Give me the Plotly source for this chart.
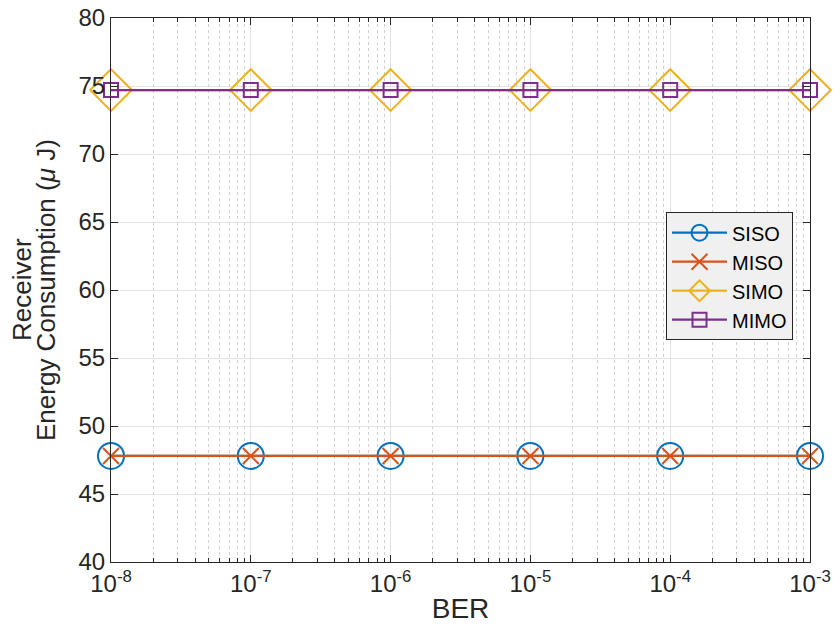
import plotly.graph_objects as go

ber = [1e-8, 1e-7, 1e-6, 1e-5, 1e-4, 1e-3]
siso = [47.8, 47.8, 47.8, 47.8, 47.8, 47.8]
miso = [47.8, 47.8, 47.8, 47.8, 47.8, 47.8]
simo = [74.7, 74.7, 74.7, 74.7, 74.7, 74.7]
mimo = [74.7, 74.7, 74.7, 74.7, 74.7, 74.7]

xtick_vals = [1e-8, 1e-7, 1e-6, 1e-5, 1e-4, 1e-3]
xtick_text = ["10<sup>-8</sup>", "10<sup>-7</sup>", "10<sup>-6</sup>",
              "10<sup>-5</sup>", "10<sup>-4</sup>", "10<sup>-3</sup>"]
ytitle_lines = ["Receiver", "Energy Consumption (<i>μ</i> J)"]

series = [
    ("SISO", siso, "#0072BD", "circle-open", 26),
    ("MISO", miso, "#D95319", "x-thin-open", 16),
    ("SIMO", simo, "#EDB120", "diamond-open", 32),
    ("MIMO", mimo, "#7E2F8E", "square-open", 14),
]

FONT = "Liberation Sans, Arial"

fig = go.Figure()
for name, vals, color, sym, size in series:
    fig.add_trace(go.Scatter(
        x=ber, y=vals, name=name, mode="lines+markers",
        line=dict(color=color, width=2.2),
        marker=dict(symbol=sym, size=size, color=color,
                    line=dict(color=color, width=2)),
        cliponaxis=False,
    ))

axis_common = dict(
    showline=True, linecolor="#262626", linewidth=1, mirror="ticks",
    ticks="inside", ticklen=7, tickcolor="#262626",
    tickfont=dict(family=FONT, size=24, color="#262626"),
    gridcolor="#e3e3e3", gridwidth=1, zeroline=False, automargin=False,
)

fig.update_xaxes(
    type="log", range=[-8.00001, -2.99999], tickvals=xtick_vals, ticktext=xtick_text,
    title=dict(text="BER", font=dict(family=FONT, size=28, color="#262626"), standoff=2),
    minor=dict(showgrid=True, griddash="dot", gridcolor="#d0d0d0", ticks="inside",
               ticklen=4, tickcolor="#262626", dtick="D1"),
    **axis_common,
)
fig.update_yaxes(range=[40, 80], dtick=5, **axis_common)

# two-line y title, tighter line spacing than Plotly's default
for xpx, txt in zip([22, 46], ytitle_lines):
    fig.add_annotation(
        text=txt, xref="paper", yref="paper",
        x=(xpx - 111) / 699, y=0.5, xanchor="center", yanchor="middle",
        textangle=-90, showarrow=False,
        font=dict(family=FONT, size=26, color="#262626"),
    )

fig.update_layout(
    width=835, height=637,
    margin=dict(l=111, r=25, t=18, b=75),
    plot_bgcolor="white", paper_bgcolor="white",
    legend=dict(
        x=0.9757, y=0.643, xanchor="right", yanchor="top",
        bgcolor="#f0f0f0", bordercolor="#262626", borderwidth=1,
        font=dict(family=FONT, size=20, color="black"),
        itemwidth=55, tracegroupgap=0,
    ),
    showlegend=True,
)

fig.write_html("out.html")
